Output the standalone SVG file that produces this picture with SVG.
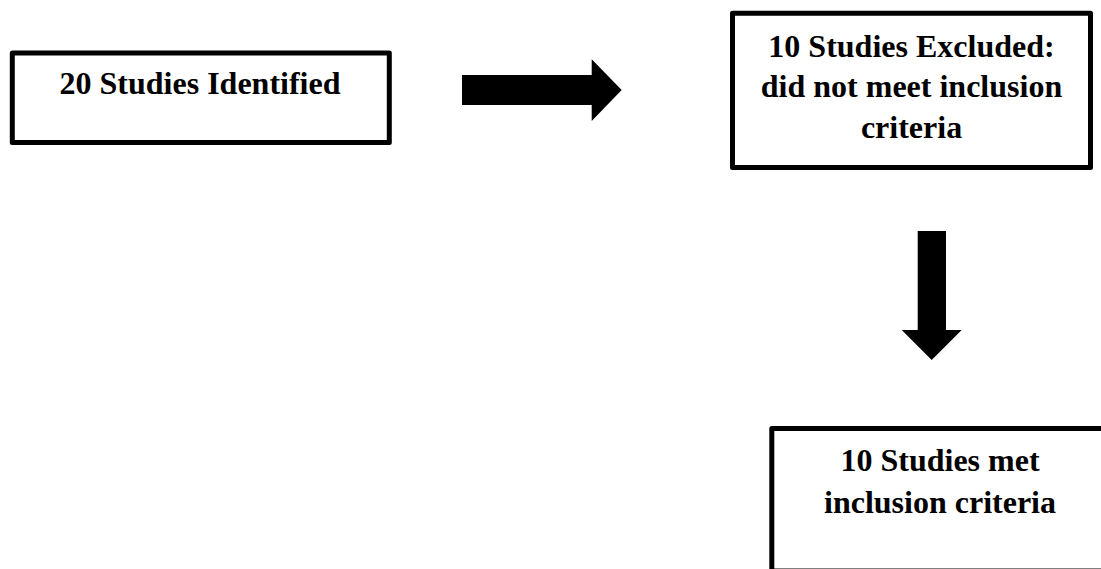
<svg xmlns="http://www.w3.org/2000/svg" width="1101" height="569" viewBox="0 0 1101 569">
<style>
.box{fill:#fff;stroke:#000;stroke-width:5;stroke-linejoin:round}
.t{font-family:"Liberation Serif","Times New Roman",serif;font-weight:bold;font-size:32px;fill:#000;text-anchor:middle}
.arr{fill:#000}
</style>
<rect width="1101" height="569" fill="#fff"/>
<g id="node-identified">
<rect class="box" x="12.3" y="53" width="377" height="89.5"/>
<text class="t" x="200" y="94">20 Studies Identified</text>
</g>
<g id="node-excluded">
<rect class="box" x="732.5" y="13.2" width="358" height="154.3"/>
<text class="t" x="911.5" y="56.5">10 Studies Excluded:</text>
<text class="t" x="911.5" y="96.5">did not meet inclusion</text>
<text class="t" x="911.5" y="137.5">criteria</text>
</g>
<g id="node-met">
<rect class="box" x="771.8" y="428.5" width="340" height="142.5"/>
<text class="t" x="940" y="471">10 Studies met</text>
<text class="t" x="940" y="513">inclusion criteria</text>
</g>
<g id="connectors">
<polygon class="arr" points="462,75 591.7,75 591.7,59.3 621.7,90 591.7,121 591.7,105 462,105"/>
<polygon class="arr" points="917.7,231 946,231 946,330 961.7,330 931.7,360 901.7,330 917.7,330"/>
</g>
</svg>
